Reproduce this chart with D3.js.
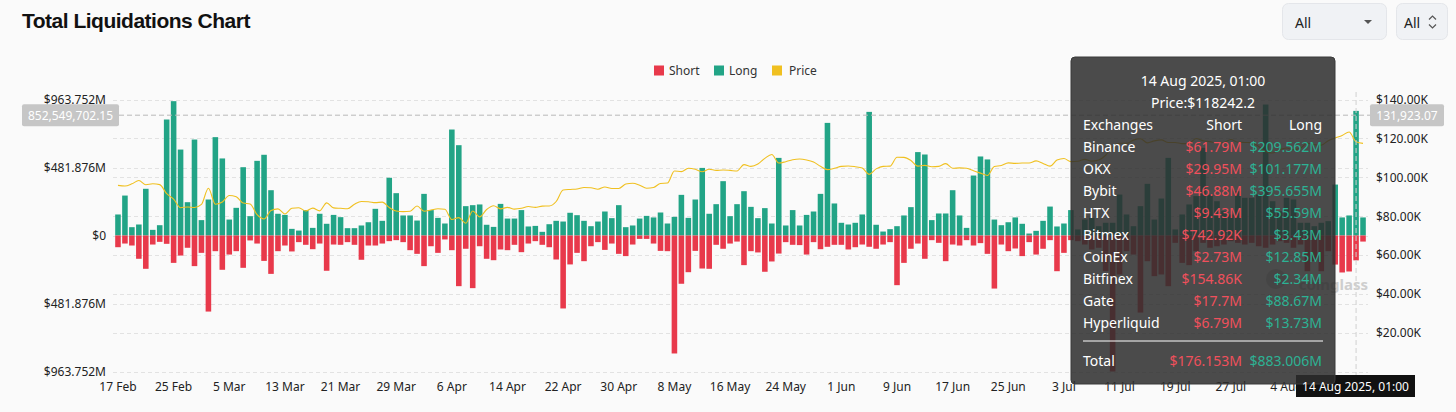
<!DOCTYPE html>
<html><head><meta charset="utf-8">
<script src="https://cdn.jsdelivr.net/npm/d3@7"></script>
<style>
html,body{margin:0;padding:0;background:#fafafa;}
svg{display:block;}
</style></head><body>
<svg id="c" width="1456" height="412"></svg>
<script>
// ---------- DATA ----------
const startDate = Date.UTC(2025, 1, 17);
const endDate = Date.UTC(2025, 7, 16); // exclusive
const longVals = [
149,283,59,78,331,40,73,822,952,609,
236,680,109,255,697,546,113,196,484,137,
529,572,321,154,146,47,35,180,54,154,
83,146,130,52,52,71,94,189,104,409,
300,142,142,106,295,180,125,85,751,640,
208,215,220,76,61,224,120,120,180,64,
68,26,80,104,99,161,144,104,66,99,
170,123,215,59,71,120,139,128,163,85,
132,288,125,255,479,154,222,385,137,222,
314,203,123,194,85,550,71,180,71,146,
170,295,798,227,90,78,90,149,876,76,
28,45,66,142,201,591,574,109,156,156,
321,142,54,425,560,539,113,73,94,128,
83,14,33,104,205,64,85,180,43,113,
125,66,90,90,290,149,66,208,366,113,
262,550,43,149,220,279,621,290,243,172,
149,314,267,267,290,928,243,172,267,255,
90,90,66,90,102,361,128,142,883.006,128];
const shortVals = [
83,57,71,165,236,64,45,59,194,142,
87,217,123,539,111,243,135,111,229,35,
57,180,272,111,71,113,47,66,97,57,
250,64,66,47,66,172,71,71,57,40,
33,47,104,130,217,76,123,28,104,359,
94,373,76,165,175,99,104,66,118,57,
40,66,83,170,517,205,123,182,76,47,
102,57,130,146,64,24,24,57,109,111,
836,342,260,109,234,236,66,94,57,43,
210,111,120,257,184,128,47,66,68,135,
47,97,80,66,66,99,83,64,80,94,
64,47,352,194,94,57,165,33,52,182,
64,71,33,71,54,130,376,64,111,92,
146,47,135,94,33,253,123,33,40,64,
99,87,253,963.752,276,111,135,546,182,288,
276,359,52,194,210,111,52,87,76,64,
40,52,64,52,76,87,64,40,52,87,
64,253,182,253,111,206,262,255,176.153,43];
const priceVals = [
95.8,95.5,96.6,98.3,96.1,96.6,96.2,91.5,88.7,84.3,84.7,84.4,
86.0,94.3,86.1,87.2,90.6,89.9,86.7,86.2,80.7,78.5,82.9,83.7,81.1,84.0,84.3,82.6,84.1,82.7,86.8,84.2,84.0,83.8,86.1,87.5,87.4,86.9,87.2,84.4,82.6,82.3,82.5,
85.2,82.5,83.1,83.8,83.5,78.2,79.2,76.3,82.6,79.6,83.4,85.3,83.7,84.5,83.6,84.0,84.9,84.5,85.1,85.2,87.5,93.4,93.7,93.9,94.7,94.6,93.8,95.0,94.2,94.2,
96.5,96.9,95.9,94.3,94.7,96.8,97.0,103.2,102.9,104.6,104.1,102.8,104.1,103.5,103.7,103.5,103.2,106.5,105.6,106.8,109.7,111.7,107.3,108.0,109.0,109.4,108.9,107.8,105.6,103.9,104.6,
105.6,105.8,105.4,104.7,101.5,104.3,105.6,105.7,110.3,110.2,108.6,105.7,106.1,105.4,105.6,107.0,104.6,104.8,104.6,103.3,102.1,100.9,105.5,106.0,107.4,107.1,107.3,107.3,108.4,107.1,
105.7,108.8,109.6,108.0,108.2,109.2,108.3,108.9,111.3,115.9,117.5,117.4,119.1,119.8,117.7,118.7,119.2,117.9,117.9,117.3,117.4,119.9,118.8,118.3,117.6,117.9,119.4,118.0,117.9,117.8,115.8,
113.3,112.5,114.2,115.0,114.1,115.0,117.5,116.7,116.5,118.8,120.2,121.5,123.3,118.2422,117.4];
const leftTicks = [-963.752, -481.876, 0, 481.876, 963.752];
const rightTicks = [20, 40, 60, 80, 100, 120, 140];
const legendItems = ["Short", "Long", "Price"];
const exchanges = ["Binance","OKX","Bybit","HTX","Bitmex","CoinEx","Bitfinex","Gate","Hyperliquid"];
const exShort = ["$61.79M","$29.95M","$46.88M","$9.43M","$742.92K","$2.73M","$154.86K","$17.7M","$6.79M"];
const exLong = ["$209.562M","$101.177M","$395.655M","$55.59M","$3.43M","$12.85M","$2.34M","$88.67M","$13.73M"];
const totalShort = "$176.153M", totalLong = "$883.006M";
const hoverIndex = 178;
const hoverLeftValue = 852549702.15, hoverRightValue = 131923.07;

// ---------- CHART ----------
const COL_LONG = "#22a486", COL_SHORT = "#e8394b", COL_PRICE = "#f0c020";
const FONT = "'Noto Sans', 'IBM Plex Sans', sans-serif";
const svg = d3.select("#c");
svg.append("rect").attr("width",1456).attr("height",412).attr("fill","#fafafa");

const dates = d3.utcDay.range(new Date(startDate), new Date(endDate));
const x = d3.scaleBand().domain(dates.map(d=>+d)).range([114.5,1366.5]).paddingInner(0.2).paddingOuter(0.1);
const bw = x.bandwidth();
const cx = i => x(+dates[i]) + bw/2;
const yL = d3.scaleLinear().domain([-963.752, 963.752]).range([371.5, 99.5]);
const yR = d3.scaleLinear().domain([0, 140]).range([371.5, 99.5]);

// title
svg.append("text").attr("x",22).attr("y",28).text("Total Liquidations Chart")
  .attr("font-family","'Liberation Sans', Arial, sans-serif").attr("font-weight","bold")
  .attr("font-size",21).attr("letter-spacing","-0.5px").attr("fill","#111");

// dropdowns
const dd = svg.append("g");
dd.append("rect").attr("x",1282.5).attr("y",3.5).attr("width",104).attr("height",36).attr("rx",6)
  .attr("fill","#f0f2f5").attr("stroke","#e4e6ea");
dd.append("text").attr("x",1295).attr("y",22).attr("dominant-baseline","central").text("All")
  .attr("font-family",FONT).attr("font-size",14).attr("fill","#222");
dd.append("path").attr("d","M1364,20 l8,0 l-4,4 z").attr("fill","#555");
dd.append("rect").attr("x",1396.5).attr("y",3.5).attr("width",51).attr("height",36).attr("rx",6)
  .attr("fill","#f0f2f5").attr("stroke","#e4e6ea");
dd.append("text").attr("x",1404).attr("y",22).attr("dominant-baseline","central").text("All")
  .attr("font-family",FONT).attr("font-size",14).attr("fill","#222");
dd.append("path").attr("d","M1429,19.5 l3.5,-3.5 l3.5,3.5 M1429,24.5 l3.5,3.5 l3.5,-3.5")
  .attr("fill","none").attr("stroke","#555").attr("stroke-width",1.2);

// legend
const legCols = [COL_SHORT, COL_LONG, COL_PRICE];
const legX = [654, 714, 772];
const lg = svg.append("g");
legendItems.forEach((t,i)=>{
  lg.append("rect").attr("x",legX[i]).attr("y",65.5).attr("width",10).attr("height",10).attr("fill",legCols[i]);
  lg.append("text").attr("x",legX[i]+ (i==2?17:15)).attr("y",70.5).attr("dominant-baseline","central")
    .text(t).attr("font-family",FONT).attr("font-size",12).attr("fill","#333");
});

// gridlines
const grid = svg.append("g");
const gridYs = leftTicks.map(v=>yL(v)).concat(rightTicks.map(v=>yR(v)), [yR(0)]);
gridYs.forEach(y=>{
  grid.append("line").attr("x1",113).attr("x2",1368).attr("y1",Math.round(y)+0.5).attr("y2",Math.round(y)+0.5)
    .attr("stroke","#e2e2e2").attr("stroke-dasharray","4,3");
});

// bars
const bars = svg.append("g");
bars.selectAll(".l").data(longVals).join("rect")
  .attr("x",(d,i)=>x(+dates[i])).attr("width",bw)
  .attr("y",d=>yL(d)).attr("height",d=>yL(0)-yL(d)).attr("fill",COL_LONG);
bars.selectAll(".s").data(shortVals).join("rect")
  .attr("x",(d,i)=>x(+dates[i])).attr("width",bw)
  .attr("y",yL(0)).attr("height",d=>yL(-d)-yL(0)).attr("fill",COL_SHORT);

// price line
svg.append("path").datum(priceVals)
  .attr("d", d3.line().x((d,i)=>cx(i)).y(d=>yR(d)).curve(d3.curveMonotoneX))
  .attr("fill","none").attr("stroke",COL_PRICE).attr("stroke-width",1.1);

// watermark (partly hidden behind the tooltip, as in the source)
const wm = svg.append("g").attr("opacity",0.8);
wm.append("circle").attr("cx",1276).attr("cy",279).attr("r",10).attr("fill","#c8c8c8");
wm.append("text").attr("x",1368).attr("y",284).attr("text-anchor","end").attr("dominant-baseline","central")
  .text("coinglass").attr("font-family",FONT).attr("font-weight","bold").attr("font-size",15).attr("fill","#c4c4c4");

// axes labels
const axL = svg.append("g");
leftTicks.forEach(v=>{
  axL.append("text").attr("x",106).attr("y",yL(v)).attr("text-anchor","end").attr("dominant-baseline","central")
    .text(v===0?"$0":"$"+d3.format(".3f")(Math.abs(v))+"M")
    .attr("font-family",FONT).attr("font-size",12).attr("fill","#222");
});
rightTicks.forEach(v=>{
  axL.append("text").attr("x",1376).attr("y",yR(v)).attr("dominant-baseline","central")
    .text("$"+d3.format(".2f")(v)+"K")
    .attr("font-family",FONT).attr("font-size",12).attr("fill","#222");
});
const fmtDate = d3.utcFormat("%-d %b");
dates.forEach((d,i)=>{
  // labels every 8 days; the one under the hover date box is hidden in the source
  if (i%8===0 && Math.abs(cx(i)-cx(hoverIndex)) > 40) {
    axL.append("text").attr("x",cx(i)).attr("y",386).attr("text-anchor","middle").attr("dominant-baseline","central")
      .text(fmtDate(d)).attr("font-family",FONT).attr("font-size",12).attr("fill","#222");
  }
});

// crosshair
const chY = yL(hoverLeftValue/1e6);
const ch = svg.append("g");
ch.append("line").attr("x1",119).attr("x2",1370).attr("y1",chY).attr("y2",chY)
  .attr("stroke","#b8b8b8").attr("stroke-dasharray","5,3");
ch.append("line").attr("x1",cx(hoverIndex)).attr("x2",cx(hoverIndex)).attr("y1",92).attr("y2",376)
  .attr("stroke","#d0d0d0").attr("stroke-dasharray","5,3");
ch.append("rect").attr("x",22).attr("y",chY-11).attr("width",97).attr("height",22).attr("rx",2).attr("fill","#c6c6c6");
ch.append("text").attr("x",70.5).attr("y",chY).attr("text-anchor","middle").attr("dominant-baseline","central")
  .text(d3.format(",.2f")(hoverLeftValue)).attr("font-family",FONT).attr("font-size",12).attr("fill","#fff");
ch.append("rect").attr("x",1370).attr("y",chY-11).attr("width",74).attr("height",22).attr("rx",2).attr("fill","#c6c6c6");
ch.append("text").attr("x",1407).attr("y",chY).attr("text-anchor","middle").attr("dominant-baseline","central")
  .text(d3.format(",.2f")(hoverRightValue)).attr("font-family",FONT).attr("font-size",12).attr("fill","#fff");

// tooltip
const tt = svg.append("g");
tt.append("rect").attr("x",1071).attr("y",57).attr("width",264).attr("height",327).attr("rx",4)
  .attr("fill","rgba(45,45,45,0.86)").attr("stroke","#3a3a3a");
const tf = (x0,y0,t,anchor,col)=>tt.append("text").attr("x",x0).attr("y",y0).attr("text-anchor",anchor)
  .attr("dominant-baseline","central").text(t).attr("font-family",FONT).attr("font-size",14).attr("fill",col);
const dFmt = d3.utcFormat("%-d %b %Y");
tf(1203,80, dFmt(dates[hoverIndex])+", 01:00","middle","#fff");
tf(1203,102,"Price:$"+priceVals[hoverIndex]*1000,"middle","#fff");
tf(1083,124,"Exchanges","start","#fff");
tf(1242,124,"Short","end","#fff");
tf(1322,124,"Long","end","#fff");
const TR = "#f0505c", TG = "#2db294";
exchanges.forEach((e,i)=>{
  const yy = 146 + i*22;
  tf(1083,yy,e,"start","#fff");
  tf(1242,yy,exShort[i],"end",TR);
  tf(1322,yy,exLong[i],"end",TG);
});
tt.append("line").attr("x1",1083).attr("x2",1323).attr("y1",341).attr("y2",341).attr("stroke","#fff").attr("stroke-width",1);
tf(1083,360,"Total","start","#fff");
tf(1242,360,totalShort,"end",TR);
tf(1322,360,totalLong,"end",TG);

// bottom x crosshair label
ch.append("rect").attr("x",1296).attr("y",375).attr("width",119).attr("height",22).attr("fill","#111");
svg.append("text").attr("x",1355.5).attr("y",386).attr("text-anchor","middle").attr("dominant-baseline","central")
  .text(dFmt(dates[hoverIndex])+", 01:00").attr("font-family",FONT).attr("font-size",12).attr("fill","#fff");
</script>
</body></html>
